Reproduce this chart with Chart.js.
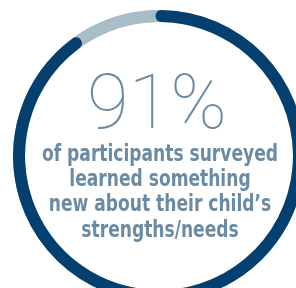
<!DOCTYPE html>
<html>
<head>
<meta charset="utf-8">
<script src="https://cdn.jsdelivr.net/npm/chart.js@4.4.1/dist/chart.umd.min.js"></script>
<style>
  html, body { margin: 0; padding: 0; background: #ffffff; overflow: hidden; width: 296px; height: 288px; }
  #wrap { position: absolute; left: 0; top: 0; width: 318px; height: 312px; }
</style>
</head>
<body>
<div id="wrap"><canvas id="c"></canvas></div>
<script>
// Data
const categories = ["Learned something new", "Did not"];
const values = [91, 9];
const bigLabel = "91%";
const captionLines = [
  "of participants surveyed",
  "learned something",
  "new about their child\u2019s",
  "strengths/needs"
];

const DARK = "#033f6f";
const LIGHT = "#a8bdc7";
const TEXT = "#6b8ba4";

const ringBackground = {
  id: "ringBackground",
  beforeDatasetsDraw(chart) {
    const arc = chart.getDatasetMeta(0).data[0];
    if (!arc) return;
    const { x, y, innerRadius, outerRadius } = arc.getProps(["x", "y", "innerRadius", "outerRadius"], true);
    const ctx = chart.ctx;
    ctx.save();
    ctx.beginPath();
    ctx.arc(x, y, outerRadius, 0, Math.PI * 2);
    ctx.arc(x, y, innerRadius, 0, Math.PI * 2, true);
    ctx.fillStyle = LIGHT;
    ctx.fill("evenodd");
    ctx.restore();
  }
};

const centerText = {
  id: "centerText",
  afterDraw(chart) {
    const ctx = chart.ctx;
    ctx.save();
    ctx.fillStyle = TEXT;
    ctx.textAlign = "center";
    ctx.textBaseline = "alphabetic";
    ctx.font = "100 76px Roboto";
    ctx.fillText(bigLabel, 157, 128);

    ctx.font = "bold 23px 'DejaVu Sans Condensed', 'DejaVu Sans', sans-serif";
    const w0 = ctx.measureText(captionLines[0]).width;
    const sx = 236 / w0;
    const baselines = [160.5, 185.5, 211, 236.5];
    captionLines.forEach((t, i) => {
      ctx.save();
      ctx.translate(160, baselines[i]);
      ctx.scale(sx, 1);
      ctx.fillText(t, 0, 0);
      ctx.restore();
    });
    ctx.restore();
  }
};

new Chart(document.getElementById("c"), {
  type: "doughnut",
  data: {
    labels: categories,
    datasets: [{
      data: values,
      backgroundColor: [DARK, LIGHT],
      borderWidth: 0,
      borderRadius: [6, 0]
    }]
  },
  options: {
    responsive: true,
    maintainAspectRatio: false,
    animation: false,
    rotation: -1.5,
    cutout: 134,
    layout: { padding: 10 },
    plugins: { legend: { display: false }, tooltip: { enabled: false } }
  },
  plugins: [ringBackground, centerText]
});
</script>
</body>
</html>
